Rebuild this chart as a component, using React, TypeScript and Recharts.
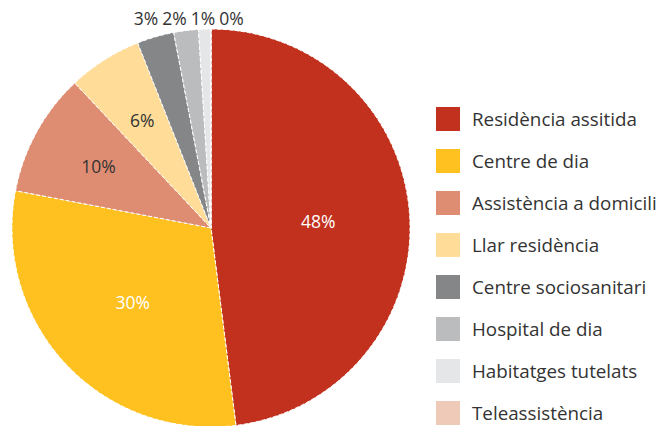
import React from "react";
import { PieChart, Pie, Cell, Legend } from "recharts";

const categories = [
  "Residència assitida",
  "Centre de dia",
  "Assistència a domicili",
  "Llar residència",
  "Centre sociosanitari",
  "Hospital de dia",
  "Habitatges tutelats",
  "Teleassistència",
];
const values = [48, 30, 10, 6, 3, 2, 1, 0.001];
const labels = ["48%", "30%", "10%", "6%", "3%", "2%", "1%", "0%"];
const colors = ["#C1311D", "#FEC11F", "#DF8D72", "#FFDD98", "#858688", "#BBBCBE", "#E5E6E8", "#F0CAB8"];

const data = categories.map((name, i) => ({ name, value: values[i], label: labels[i] }));

const FONT = "'Open Sans', 'DejaVu Sans', sans-serif";
const RAD = Math.PI / 180;

const renderLabel = (props: any) => {
  const { cx, cy, midAngle, outerRadius, index } = props;
  const v = values[index];
  let x: number;
  let y: number;
  let fill = "#333";
  if (v >= 20) {
    const r = outerRadius * 0.54;
    x = cx + r * Math.cos(-midAngle * RAD);
    y = cy + r * Math.sin(-midAngle * RAD);
    fill = "#fff";
  } else if (v >= 5) {
    const r = outerRadius * 0.645;
    x = cx + r * Math.cos(-midAngle * RAD);
    y = cy + r * Math.sin(-midAngle * RAD);
  } else {
    const k = index - 4;
    x = cx - 65 + k * 28.5;
    y = cy - outerRadius - 11;
  }
  return (
    <text
      key={`lbl-${index}`}
      x={x}
      y={y}
      fill={fill}
      fontSize={17.5}
      fontFamily={FONT}
      textAnchor="middle"
      dominantBaseline="central"
    >
      {labels[index]}
    </text>
  );
};

const renderLegend = () => (
  <div style={{ fontFamily: FONT }}>
    {categories.map((c, i) => (
      <div key={c} style={{ display: "flex", alignItems: "center", height: 42 }}>
        <div style={{ width: 24, height: 24, background: colors[i], marginRight: 12, flex: "none" }} />
        <span style={{ fontSize: 18.8, color: "#333", whiteSpace: "nowrap" }}>{c}</span>
      </div>
    ))}
  </div>
);

export default function App() {
  return (
    <div style={{ position: "absolute", left: 0, top: 0 }}>
      <PieChart width={662} height={426} margin={{ top: 0, right: 0, bottom: 0, left: 0 }}>
        <Pie
          data={data}
          dataKey="value"
          nameKey="name"
          cx={211}
          cy={228}
          outerRadius={199}
          startAngle={90}
          endAngle={-270}
          stroke="#fff"
          strokeWidth={1}
          strokeDasharray="4 2"
          label={renderLabel}
          labelLine={false}
          isAnimationActive={false}
        >
          {data.map((d, i) => (
            <Cell key={d.name} fill={colors[i]} />
          ))}
        </Pie>
        <Legend
          layout="vertical"
          align="right"
          verticalAlign="top"
          content={renderLegend}
          wrapperStyle={{ left: 436, top: 98, width: 226 }}
        />
      </PieChart>
    </div>
  );
}
